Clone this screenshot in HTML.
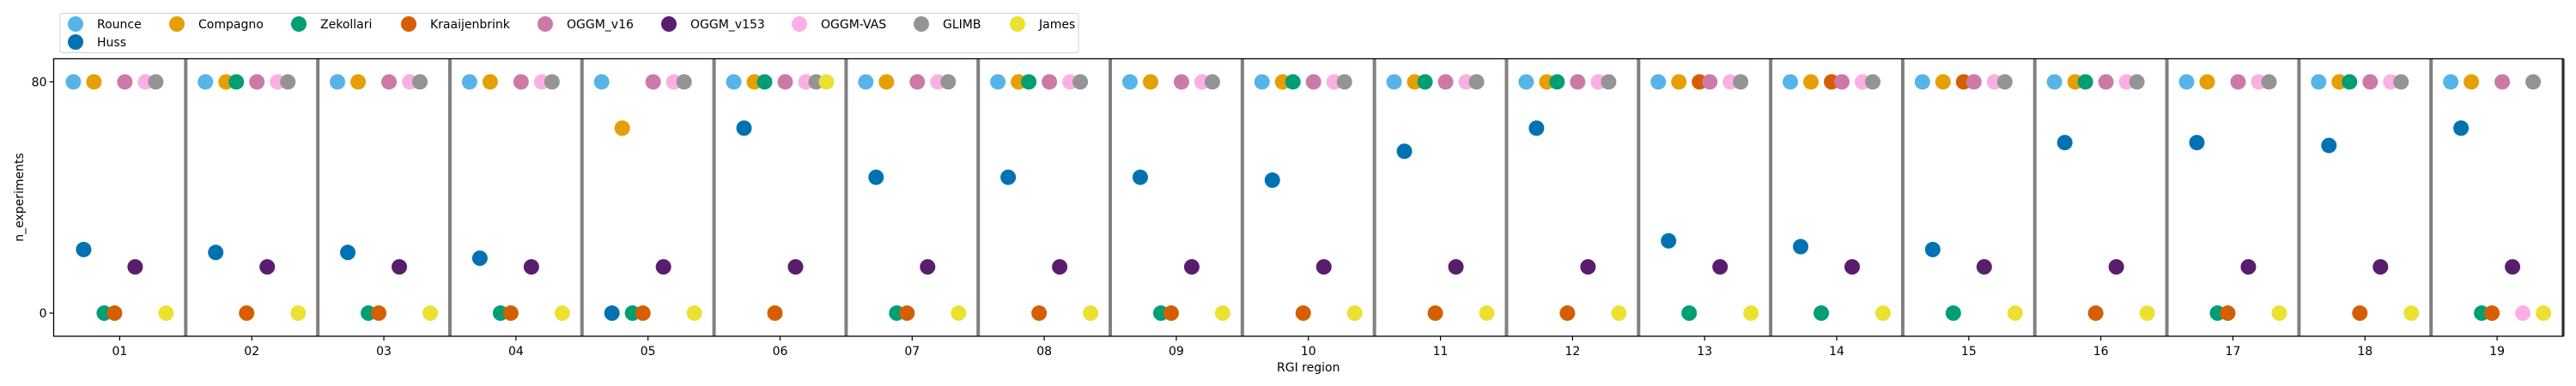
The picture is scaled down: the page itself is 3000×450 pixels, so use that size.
<!DOCTYPE html>
<html><head><meta charset="utf-8"><style>
html,body{margin:0;padding:0;background:#fff;}
svg{display:block;font-family:"DejaVu Sans","Liberation Sans",sans-serif;}
</style></head><body>
<svg id="chart" width="3000" height="450" viewBox="0 0 3000 450" xmlns="http://www.w3.org/2000/svg">
<rect width="3000" height="450" fill="#fff"/>
<g id="plot"></g>
<g id="legend"></g>
</svg>
<script>
const regions = ["01","02","03","04","05","06","07","08","09","10","11","12","13","14","15","16","17","18","19"];
const seriesNames = ["Rounce","Huss","Compagno","Zekollari","Kraaijenbrink","OGGM_v16","OGGM_v153","OGGM-VAS","GLIMB","James"];
const seriesColors = ["#56b4e9","#0072b2","#e69f00","#009e73","#d55e00","#cc79a7","#591d6e","#fbafe4","#949494","#ece133"];
const rounce       = [80,80,80,80,80,80,80,80,80,80,80,80,80,80,80,80,80,80,80];
const huss         = [22,21,21,19,0,64,47,47,47,46,56,64,25,23,22,59,59,58,64];
const compagno     = [80,80,80,80,64,80,80,80,80,80,80,80,80,80,80,80,80,80,80];
const zekollari    = [0,80,0,0,0,80,0,80,0,80,80,80,0,0,0,80,0,80,0];
const kraaijenbrink= [0,0,0,0,0,0,0,0,0,0,0,0,80,80,80,0,0,0,0];
const oggmV16      = [80,80,80,80,80,80,80,80,80,80,80,80,80,80,80,80,80,80,80];
const oggmV153     = [16,16,16,16,16,16,16,16,16,16,16,16,16,16,16,16,16,16,16];
const oggmVas      = [80,80,80,80,80,80,80,80,80,80,80,80,80,80,80,80,80,80,0];
const glimb        = [80,80,80,80,80,80,80,80,80,80,80,80,80,80,80,80,80,80,80];
const james        = [0,0,0,0,0,80,0,0,0,0,0,0,0,0,0,0,0,0,0];
const seriesValues = [rounce,huss,compagno,zekollari,kraaijenbrink,oggmV16,oggmV153,oggmVas,glimb,james];
const yTicks = [0,80];

const L=62.5,R=2985,T=68.5,B=392;
const xMin=-0.5,xMax=18.5,yMin=-8,yMax=88;
const xs=i=>L+(i-xMin)/(xMax-xMin)*(R-L);
const ys=v=>B-(v-yMin)/(yMax-yMin)*(B-T);
const step=(R-L)/(xMax-xMin);
const dodge=k=>(k-4.5)*step*0.078;
const NS="http://www.w3.org/2000/svg";
const plot=document.getElementById('plot');
function mk(tag,attrs,parent){const e=document.createElementNS(NS,tag);for(const k in attrs)e.setAttribute(k,attrs[k]);(parent||plot).appendChild(e);return e;}

for(let i=0;i<regions.length;i++){
  const ln=mk('line',{x1:xs(i+0.5),x2:xs(i+0.5),y1:T,y2:B,stroke:'#808080','stroke-width':4});
  
  
}
seriesValues.forEach((arr,k)=>{
  const g=mk('g',{});
  
  
  arr.forEach((v,i)=>{
    if(v===null)return;
    const c=mk('circle',{cx:xs(i)+dodge(k),cy:ys(v),r:9,fill:seriesColors[k]},g);
    
    
  });
});
const fr=mk('rect',{x:L,y:T,width:R-L,height:B-T,fill:'none',stroke:'#000','stroke-width':1.3});


regions.forEach((r,i)=>{
  const tk=mk('line',{x1:xs(i),x2:xs(i),y1:B,y2:B+5,stroke:'#000','stroke-width':1.2});
  
  
  const t=mk('text',{x:xs(i),y:B+22,'text-anchor':'middle','font-size':14});
  t.textContent=r;
  
  
});
yTicks.forEach(v=>{
  const tk=mk('line',{x1:L-5,x2:L,y1:ys(v),y2:ys(v),stroke:'#000','stroke-width':1.2});
  
  
  const t=mk('text',{x:L-8,y:ys(v)+5,'text-anchor':'end','font-size':14});
  t.textContent=v;
  
  
});
const xt=mk('text',{x:(L+R)/2,y:433,'text-anchor':'middle','font-size':14});
xt.textContent='RGI region';


const yt=mk('text',{x:0,y:0,'text-anchor':'middle','font-size':14,transform:'translate(27,230) rotate(-90)'});
yt.textContent='n_experiments';



const lg=document.getElementById('legend');
const lb=mk('rect',{x:70,y:15.5,width:1186,height:46,rx:3,fill:'#fff',stroke:'#d0d0d0','stroke-width':1},lg);


const legX=[88,88,206,348,476,635,779,931,1073,1185];
const legY=[28,49,28,28,28,28,28,28,28,28];
seriesNames.forEach((n,k)=>{
  const g=mk('g',{},lg);
  
  
  mk('circle',{cx:legX[k],cy:legY[k],r:9,fill:seriesColors[k]},g);
  const t=mk('text',{x:legX[k]+25,y:legY[k]+5,'font-size':14},g);
  t.textContent=n;
});
</script>
</body></html>
